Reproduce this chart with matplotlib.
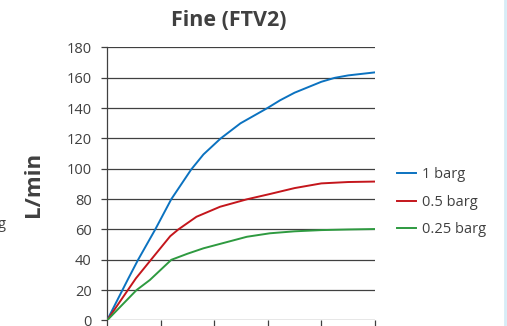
import matplotlib
matplotlib.use('Agg')
import matplotlib.pyplot as plt
from matplotlib.lines import Line2D

plt.rcParams['font.family'] = ['Open Sans', 'DejaVu Sans']

# values (x in category units, y in L/min)
x_1 = [0, 0.4, 0.58, 0.9, 1.2, 1.57, 1.8, 2.12, 2.49, 2.99, 3.23, 3.5, 4, 4.25, 4.5, 5]
flow_1 = [0, 27.8, 40, 60, 80, 99.5, 109.5, 120, 130, 140, 145.2, 150.2, 157.4, 160, 161.6, 163.6]
x_05 = [0, 0.54, 0.82, 1.18, 1.33, 1.67, 2.11, 2.61, 3.04, 3.5, 4, 4.5, 5]
flow_05 = [0, 27.8, 40, 55.6, 60, 68.4, 75, 79.9, 83.4, 87.3, 90.4, 91.3, 91.6]
x_025 = [0, 0.55, 0.8, 1.2, 1.5, 1.8, 2.61, 3.04, 3.5, 4, 4.5, 5]
flow_025 = [0, 20, 26.7, 40, 44, 47.6, 55.2, 57.5, 58.8, 59.6, 60, 60.3]
labels = ['1 barg', '0.5 barg', '0.25 barg']
colors = ['#0b72c0', '#c4161c', '#2e9a40']
yticks = [0, 20, 40, 60, 80, 100, 120, 140, 160, 180]
xticks = [0, 1, 2, 3, 4, 5]

txt = '#404040'

fig = plt.figure(figsize=(5.07, 3.26), dpi=100)
ax = fig.add_axes([0.211, 0.0169, 0.5286, 0.8374])

for xs, ys, c, lab in zip([x_1, x_05, x_025], [flow_1, flow_05, flow_025], colors, labels):
    ax.plot(xs, ys, color=c, lw=1.4, label=lab, zorder=3,
            solid_joinstyle='round')

ax.set_xlim(0, 5)
ax.set_ylim(0, 180)
ax.set_yticks(yticks)
ax.set_xticks(xticks)
ax.set_xticklabels([])
ax.yaxis.grid(True, color='#404040', lw=0.9)
ax.set_axisbelow(True)
for s in ['top', 'right', 'bottom']:
    ax.spines[s].set_visible(False)
ax.spines['left'].set_color('#404040')
ax.spines['left'].set_linewidth(0.9)
ax.tick_params(axis='y', length=4, width=0.9, color='#404040', pad=7,
               labelsize=10.5, labelcolor=txt)
ax.tick_params(axis='x', length=5, width=0.9, color='#404040', direction='out')

ax.set_ylabel('L/min', fontsize=16, fontweight='bold', color=txt, labelpad=16)

fig.text(229 / 507, 1 - 20 / 326, 'Fine (FTV2)', ha='center', va='center',
         fontsize=15.5, fontweight='bold', color=txt)

leg = ax.legend(loc='center left', bbox_to_anchor=(1.06, 0.433), frameon=False,
                fontsize=10.5, handlelength=1.3, handletextpad=0.4,
                labelspacing=0.85, borderaxespad=0)
for t in leg.get_texts():
    t.set_color(txt)

# fragment of neighbouring text at the left edge and frame on the right
fig.text(-0.004, 1 - 225 / 326, 'g', ha='left', va='center', fontsize=10.5,
         color=txt)
fig.add_artist(Line2D([505 / 507, 505 / 507], [0, 1], color='#d6ecf7', lw=2))

fig.savefig('out.png', dpi=100)
